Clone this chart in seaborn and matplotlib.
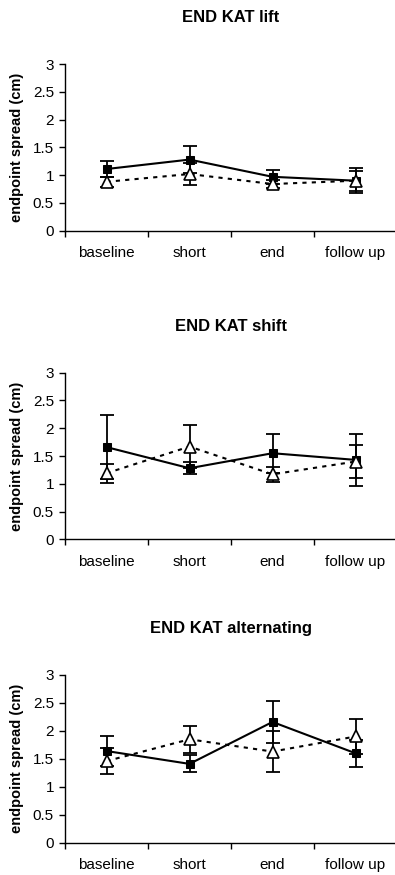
import matplotlib
matplotlib.use("Agg")
import matplotlib.pyplot as plt
import seaborn as sns
import numpy as np
import pandas as pd
from matplotlib.ticker import FixedLocator, NullFormatter

categories = ["baseline", "short", "end", "follow up"]
titles = ["END KAT lift", "END KAT shift", "END KAT alternating"]

lift_sq = [1.11, 1.28, 0.97, 0.90]
lift_sq_err = [0.14, 0.25, 0.13, 0.22]
lift_tri = [0.88, 1.02, 0.84, 0.90]
lift_tri_err = [0.09, 0.19, 0.07, 0.18]

shift_sq = [1.66, 1.28, 1.55, 1.43]
shift_sq_err = [0.57, 0.11, 0.35, 0.47]
shift_tri = [1.19, 1.67, 1.17, 1.40]
shift_tri_err = [0.17, 0.39, 0.14, 0.29]

alt_sq = [1.64, 1.41, 2.16, 1.60]
alt_sq_err = [0.26, 0.15, 0.37, 0.24]
alt_tri = [1.46, 1.85, 1.63, 1.90]
alt_tri_err = [0.23, 0.24, 0.36, 0.32]

panels = [
    (lift_sq, lift_sq_err, lift_tri, lift_tri_err),
    (shift_sq, shift_sq_err, shift_tri, shift_tri_err),
    (alt_sq, alt_sq_err, alt_tri, alt_tri_err),
]

sns.set_style("white")
plt.rcParams["font.family"] = ["Liberation Sans", "DejaVu Sans"]
plt.rcParams["text.color"] = "black"
plt.rcParams["axes.labelcolor"] = "black"
plt.rcParams["xtick.color"] = "black"
plt.rcParams["ytick.color"] = "black"

W, H = 395, 875
fig = plt.figure(figsize=(W / 100, H / 100), dpi=100)

tops = [64, 372.7, 675]
bottoms = [230.7, 539.3, 842.7]
left_px, right_px = 65, 397

pos = np.arange(len(categories))

for i, (sq, sqe, tri, trie) in enumerate(panels):
    ax = fig.add_axes([left_px / W, 1 - bottoms[i] / H,
                       (right_px - left_px) / W, (bottoms[i] - tops[i]) / H])
    ax.errorbar(pos, sq, yerr=sqe, fmt="none", ecolor="black", elinewidth=1.3,
                capsize=4.7, capthick=1.3, zorder=1)
    ax.errorbar(pos, tri, yerr=trie, fmt="none", ecolor="black", elinewidth=1.3,
                capsize=4.7, capthick=1.3, zorder=1)
    df_sq = pd.DataFrame({"x": pos, "y": sq})
    df_tri = pd.DataFrame({"x": pos, "y": tri})
    sns.lineplot(data=df_sq, x="x", y="y", ax=ax, color="black", linewidth=1.5,
                 marker="s", markersize=5.5, markerfacecolor="black",
                 markeredgecolor="black", zorder=2)
    sns.lineplot(data=df_tri, x="x", y="y", ax=ax, color="black", linewidth=1.5,
                 linestyle=(0, (2, 2.5)), marker="^", markersize=9,
                 markerfacecolor="white", markeredgecolor="black",
                 markeredgewidth=1.2, zorder=3)

    ax.set_xlim(-0.5, 3.5)
    ax.set_ylim(0, 3)
    ax.set_yticks([0, 0.5, 1, 1.5, 2, 2.5, 3])
    ax.set_yticklabels(["0", "0.5", "1", "1.5", "2", "2.5", "3"])
    ax.set_xticks(pos)
    ax.set_xticklabels(categories)
    ax.xaxis.set_minor_locator(FixedLocator([-0.5, 0.5, 1.5, 2.5, 3.5]))
    ax.xaxis.set_minor_formatter(NullFormatter())
    ax.tick_params(axis="x", which="major", length=0, pad=11, labelsize=11,
                   colors="black")
    ax.tick_params(axis="x", which="minor", length=4, width=1, direction="out",
                   bottom=True, color="black")
    ax.tick_params(axis="y", which="major", length=4, width=1, direction="out",
                   left=True, pad=4, labelsize=11, colors="black")
    for s in ["top", "right"]:
        ax.spines[s].set_visible(False)
    for s in ["left", "bottom"]:
        ax.spines[s].set_color("black")
        ax.spines[s].set_linewidth(1)
    ax.set_xlabel("")
    ax.set_ylabel("endpoint spread (cm)", fontsize=10.5, fontweight="bold",
                  labelpad=6, color="black")
    ax.set_title(titles[i], fontsize=12, fontweight="bold", pad=30,
                 color="black")

fig.savefig("out.png", dpi=100)
